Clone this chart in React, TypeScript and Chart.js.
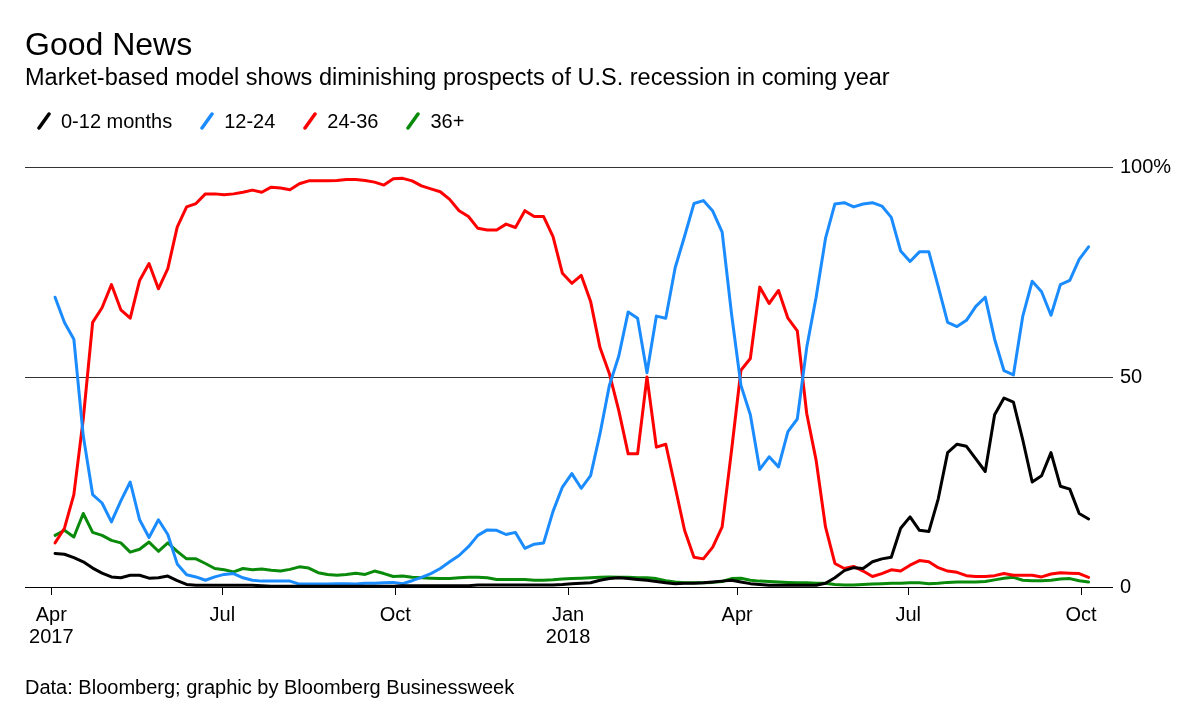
import React, { useEffect, useRef } from 'react';
import { Chart, registerables } from 'chart.js';

Chart.register(...registerables);

// Sample dates (every 5 days)
const dates = [
  '2017-04-03','2017-04-08','2017-04-13','2017-04-18','2017-04-23','2017-04-28','2017-05-03','2017-05-08','2017-05-13','2017-05-18',
  '2017-05-23','2017-05-28','2017-06-02','2017-06-07','2017-06-12','2017-06-17','2017-06-22','2017-06-27','2017-07-02','2017-07-07',
  '2017-07-12','2017-07-17','2017-07-22','2017-07-27','2017-08-01','2017-08-06','2017-08-11','2017-08-16','2017-08-21','2017-08-26',
  '2017-08-31','2017-09-05','2017-09-10','2017-09-15','2017-09-20','2017-09-25','2017-09-30','2017-10-05','2017-10-10','2017-10-15',
  '2017-10-20','2017-10-25','2017-10-30','2017-11-04','2017-11-09','2017-11-14','2017-11-19','2017-11-24','2017-11-29','2017-12-04',
  '2017-12-09','2017-12-14','2017-12-19','2017-12-24','2017-12-29','2018-01-03','2018-01-08','2018-01-13','2018-01-18','2018-01-23',
  '2018-01-28','2018-02-02','2018-02-07','2018-02-12','2018-02-17','2018-02-22','2018-02-27','2018-03-04','2018-03-09','2018-03-14',
  '2018-03-19','2018-03-24','2018-03-29','2018-04-03','2018-04-08','2018-04-13','2018-04-18','2018-04-23','2018-04-28','2018-05-03',
  '2018-05-08','2018-05-13','2018-05-18','2018-05-23','2018-05-28','2018-06-02','2018-06-07','2018-06-12','2018-06-17','2018-06-22',
  '2018-06-27','2018-07-02','2018-07-07','2018-07-12','2018-07-17','2018-07-22','2018-07-27','2018-08-01','2018-08-06','2018-08-11',
  '2018-08-16','2018-08-21','2018-08-26','2018-08-31','2018-09-05','2018-09-10','2018-09-15','2018-09-20','2018-09-25','2018-09-30',
  '2018-10-05',
];

const months0to12 = [
  8, 7.8, 7, 6, 4.5, 3.3, 2.4, 2.2, 2.8, 2.8,
  2.1, 2.2, 2.6, 1.5, 0.6, 0.4, 0.4, 0.4, 0.4, 0.4,
  0.4, 0.4, 0.3, 0.2, 0.2, 0.2, 0.2, 0.2, 0.2, 0.2,
  0.2, 0.2, 0.2, 0.2, 0.2, 0.2, 0.2, 0.3, 0.3, 0.3,
  0.3, 0.3, 0.3, 0.3, 0.3, 0.5, 0.5, 0.5, 0.5, 0.5,
  0.5, 0.5, 0.5, 0.5, 0.6, 0.8, 0.9, 1, 1.6, 2,
  2.2, 2, 1.8, 1.6, 1.3, 1, 0.8, 0.9, 0.9, 1,
  1.2, 1.4, 1.6, 1.2, 0.8, 0.6, 0.4, 0.4, 0.4, 0.4,
  0.4, 0.4, 0.9, 2.2, 3.9, 4.6, 4.4, 6, 6.7, 7.1,
  14, 16.7, 13.5, 13.2, 21, 32, 34, 33.5, 30.5, 27.5,
  41, 45, 44, 35, 25, 26.5, 32, 24, 23.3, 17.5,
  16.2,
];

const months12to24 = [
  69, 63, 59, 36, 22, 20, 15.5, 20.5, 25, 16,
  11.8, 16, 12.5, 5.5, 2.9, 2.4, 1.6, 2.4, 3, 3.2,
  2.2, 1.6, 1.4, 1.4, 1.4, 1.4, 0.7, 0.7, 0.7, 0.7,
  0.8, 0.8, 0.7, 0.9, 0.9, 1, 1.1, 0.8, 1.5, 2.3,
  3.2, 4.4, 6, 7.5, 9.6, 12.3, 13.6, 13.5, 12.5, 13,
  9.2, 10.2, 10.5, 18, 23.8, 27, 23.5, 26.5, 36.5, 48,
  55, 65.5, 64, 51, 64.5, 64, 76, 83.5, 91.3, 92,
  89.5, 84.5, 65, 48, 41, 28, 31, 28.6, 37, 40,
  57, 69, 83, 91.2, 91.5, 90.5, 91.2, 91.5, 90.7, 88,
  80, 77.5, 79.8, 79.8, 71.5, 63, 62, 63.5, 66.8, 69,
  59, 51.5, 50.5, 64.5, 72.8, 70.3, 64.7, 72, 73, 78,
  81,
];

const months24to36 = [
  10.5, 14, 22, 40, 63, 66.5, 72, 66, 64, 73,
  77, 71, 75.8, 85.7, 90.5, 91.3, 93.6, 93.6, 93.4, 93.6,
  94, 94.5, 94, 95.2, 95, 94.6, 96, 96.7, 96.7, 96.7,
  96.8, 97, 97, 96.8, 96.4, 95.7, 97.2, 97.3, 96.7, 95.5,
  94.8, 94.1, 92.3, 89.6, 88.2, 85.4, 85, 85, 86.4, 85.6,
  89.6, 88.2, 88.2, 83.4, 74.7, 72.3, 74.2, 68, 57, 50.8,
  42, 31.7, 31.7, 50, 33.3, 34, 23.8, 13.5, 7.1, 6.7,
  9.5, 14.3, 32.5, 51.6, 54.4, 71.4, 67.5, 70.6, 64, 61,
  41.3, 30.2, 14.3, 5.6, 4.4, 4.9, 3.8, 2.5, 3.2, 4.1,
  3.8, 5.2, 6.3, 6, 4.6, 3.8, 3.5, 2.7, 2.5, 2.5,
  2.7, 3.2, 2.8, 2.8, 2.8, 2.4, 3.1, 3.4, 3.3, 3.2,
  2.3,
];

const months36plus = [
  12.3, 13.5, 11.9, 17.5, 13, 12.3, 11.1, 10.5, 8.3, 9,
  10.7, 8.5, 10.5, 8.5, 6.7, 6.7, 5.6, 4.4, 4.1, 3.6,
  4.4, 4.1, 4.3, 4, 3.8, 4.2, 4.8, 4.5, 3.4, 3,
  2.8, 3, 3.3, 3, 3.8, 3.2, 2.5, 2.6, 2.3, 2.2,
  2.1, 2, 2, 2.2, 2.3, 2.3, 2.2, 1.8, 1.8, 1.8,
  1.8, 1.6, 1.6, 1.7, 1.9, 2, 2.1, 2.2, 2.3, 2.4,
  2.3, 2.3, 2.2, 2.2, 2, 1.5, 1.2, 1, 1, 1,
  1.1, 1.3, 2, 2.1, 1.6, 1.4, 1.3, 1.2, 1.1, 1,
  1, 0.9, 0.9, 0.6, 0.5, 0.5, 0.6, 0.7, 0.8, 0.9,
  0.9, 1, 1, 0.8, 0.9, 1.1, 1.2, 1.2, 1.2, 1.3,
  1.7, 2.1, 2.3, 1.6, 1.5, 1.5, 1.6, 1.9, 2, 1.5,
  1.2,
];

const seriesNames = ['0-12 months', '12-24', '24-36', '36+'];
const seriesColors = ['#000000', '#1a8cff', '#ff0000', '#0a8a0a'];

const xTickDates = ['2017-04-01', '2017-07-01', '2017-10-01', '2018-01-01', '2018-04-01', '2018-07-01', '2018-10-01'];
const xTickLabels = [['Apr', '2017'], ['Jul'], ['Oct'], ['Jan', '2018'], ['Apr'], ['Jul'], ['Oct']];
const yTickValues = [0, 50, 100];

const ORIGIN = Date.UTC(2017, 3, 1);
const dayOf = (s: string) => (Date.parse(s + 'T00:00:00Z') - ORIGIN) / 86400000;

const FONT = '"Liberation Sans", Arial, Helvetica, sans-serif';

export default function App() {
  const canvasRef = useRef<HTMLCanvasElement | null>(null);

  useEffect(() => {
    const canvas = canvasRef.current;
    if (!canvas) return;
    const all = [months0to12, months12to24, months24to36, months36plus];
    const xTickDays = xTickDates.map(dayOf);
    const chart = new Chart(canvas, {
      type: 'line',
      data: {
        datasets: all.map((arr, i) => ({
          label: seriesNames[i],
          data: dates.map((d, j) => ({ x: dayOf(d), y: arr[j] })),
          borderColor: seriesColors[i],
          backgroundColor: seriesColors[i],
          borderWidth: 3,
          pointRadius: 0,
          tension: 0,
          fill: false,
        })),
      },
      options: {
        responsive: false,
        maintainAspectRatio: false,
        animation: false,
        layout: { padding: { left: 25, top: 167, right: 0, bottom: 0 } },
        plugins: {
          legend: { display: false },
          tooltip: { enabled: false },
          title: { display: false },
        },
        elements: {
          line: { borderCapStyle: 'round', borderJoinStyle: 'round' },
          point: { radius: 0 },
        },
        scales: {
          x: {
            type: 'linear',
            min: -14,
            max: 565,
            afterBuildTicks: (s: any) => {
              s.ticks = xTickDays.map((v) => ({ value: v }));
            },
            afterFit: (s: any) => {
              s.height = 120;
            },
            grid: {
              drawOnChartArea: false,
              drawTicks: true,
              tickLength: 8,
              color: '#000',
              lineWidth: 1,
            },
            border: { display: false },
            ticks: {
              autoSkip: false,
              maxRotation: 0,
              padding: 9,
              color: '#000',
              font: { family: FONT, size: 20, lineHeight: 1.1 },
              callback: (_v: any, i: number) => xTickLabels[i],
            },
          },
          y: {
            position: 'right',
            min: 0,
            max: 100,
            afterBuildTicks: (s: any) => {
              s.ticks = yTickValues.map((v) => ({ value: v }));
            },
            afterFit: (s: any) => {
              s.width = 87;
            },
            grid: {
              drawTicks: false,
              color: (c: any) => (c.tick && c.tick.value === 0 ? '#000' : '#333'),
              lineWidth: 1,
            },
            border: { display: false },
            ticks: {
              padding: 7,
              color: '#000',
              font: { family: FONT, size: 20 },
              callback: (v: any) => (v === 100 ? '100%' : String(v)),
            },
          },
        },
      } as any,
    });
    return () => chart.destroy();
  }, []);

  const text = (extra: React.CSSProperties): React.CSSProperties => ({
    position: 'absolute',
    fontFamily: FONT,
    color: '#000',
    whiteSpace: 'nowrap',
    margin: 0,
    ...extra,
  });

  return (
    <div style={{ position: 'absolute', left: 0, top: 0, width: 1200, height: 707, background: '#fff', overflow: 'hidden' }}>
      <canvas
        ref={canvasRef}
        width={1200}
        height={707}
        style={{ position: 'absolute', left: 0, top: 0, width: 1200, height: 707 }}
      />
      <div style={text({ left: 25, top: 28, fontSize: 32, lineHeight: '32px' })}>Good News</div>
      <div style={text({ left: 25, top: 66, fontSize: 23.5, lineHeight: '23px' })}>
        Market-based model shows diminishing prospects of U.S. recession in coming year
      </div>
      <div style={{ position: 'absolute', left: 37, top: 111, display: 'flex', alignItems: 'center', gap: 28 }}>
        {seriesNames.map((n, i) => (
          <div key={n} style={{ display: 'flex', alignItems: 'center' }}>
            <svg width={14} height={18} style={{ display: 'block' }}>
              <line x1={2} y1={16} x2={12} y2={2} stroke={seriesColors[i]} strokeWidth={3.5} strokeLinecap="round" />
            </svg>
            <span style={{ fontFamily: FONT, fontSize: 20, lineHeight: '20px', marginLeft: 10, color: '#000' }}>{n}</span>
          </div>
        ))}
      </div>
      <div style={text({ left: 25, top: 677, fontSize: 20, lineHeight: '20px' })}>
        Data: Bloomberg; graphic by Bloomberg Businessweek
      </div>
    </div>
  );
}
